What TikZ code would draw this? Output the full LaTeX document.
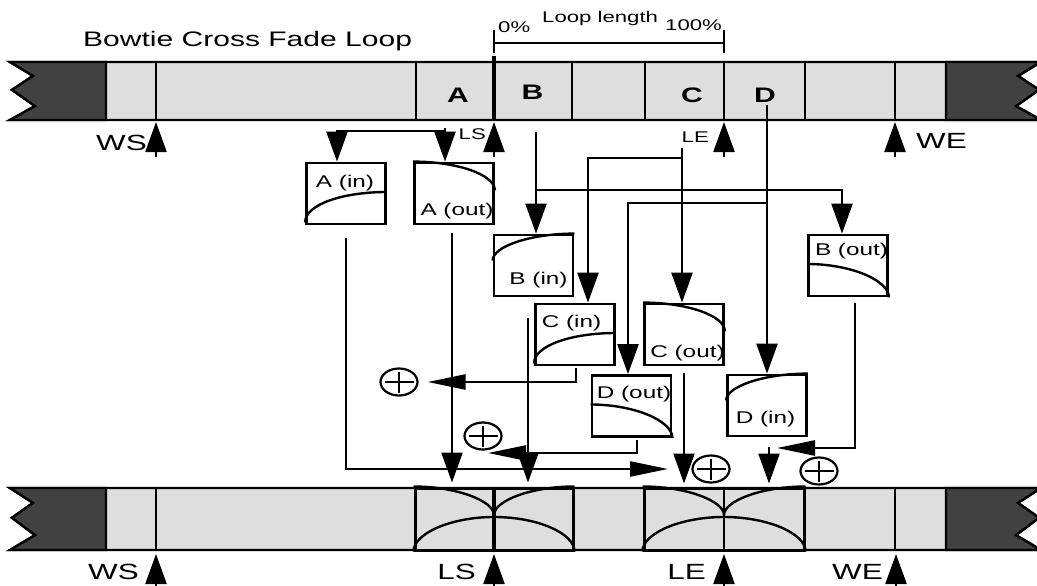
\documentclass[tikz,border=0pt]{standalone}
\usepackage{fontspec}
\setmainfont{Liberation Sans}[FakeStretch=1.43]
\usetikzlibrary{arrows.meta,calc,shapes.geometric}
\definecolor{lgray}{HTML}{DEDEDE}
\definecolor{dgray}{HTML}{414141}
\newcommand{\tapebar}[2]{%
  \pgfmathsetmacro{\ya}{#1+0.24*(#2-#1)}%
  \pgfmathsetmacro{\yb}{#1+0.48*(#2-#1)}%
  \pgfmathsetmacro{\yc}{#1+0.76*(#2-#1)}%
  \path[bar] (10,#1) -- (1041,#1) -- (1018,\ya) -- (1039,\yb) -- (1016,\yc) -- (1041,#2) -- (10,#2) -- (35,\yc) -- (12,\yb) -- (33,\ya) -- cycle;
  \path[darkend] (106,#1) -- (10,#1) -- (33,\ya) -- (12,\yb) -- (35,\yc) -- (10,#2) -- (106,#2) -- cycle;
  \path[darkend] (946,#1) -- (1041,#1) -- (1018,\ya) -- (1039,\yb) -- (1016,\yc) -- (1041,#2) -- (946,#2) -- cycle;
  \draw[sep] (156,#1) -- (156,#2) (895,#1) -- (895,#2);
}
\begin{document}
\begin{tikzpicture}[x=1pt,y=-1pt,line join=miter,
  bar/.style={draw=black,line width=2.4pt,fill=lgray},
  darkend/.style={draw=black,line width=2.4pt,fill=dgray},
  sep/.style={line width=2.2pt},
  lsline/.style={line width=4.5pt},
  fbox/.style={draw=black,line width=2.8pt,fill=white,minimum width=79pt,minimum height=61pt,inner sep=0pt},
  bow/.style={draw=black,line width=3pt,fill=lgray,minimum height=62pt,inner sep=0pt},
  crv/.style={line width=2.4pt},
  conn/.style={line width=2.4pt},
  varr/.style={conn,-{Triangle[length=30pt,width=21pt]}},
  harr/.style={conn,-{Triangle[length=38pt,width=15pt]}},
  uarr/.style={conn,{Triangle[length=30pt,width=21pt]}-},
  big/.style={font=\fontsize{22}{26}\selectfont,inner sep=0pt},
  bigb/.style={font=\fontsize{21}{25}\selectfont\bfseries,inner sep=0pt},
  small/.style={font=\fontsize{15.5}{18}\selectfont,inner sep=0pt},
  lab/.style={font=\fontsize{17}{19}\selectfont,inner sep=0pt,anchor=base},
  oplus/.style={draw=black,ellipse,line width=2.2pt,minimum width=37pt,minimum height=27pt,inner sep=0pt},
  plusbar/.style={line width=2.2pt}
]
\useasboundingbox (0,0) rectangle (1037,586);

% ---------- top bar ----------
\tapebar{62}{120}
\foreach \x in {416,572,645,724,805} \draw[sep] (\x,62) -- (\x,120);
\draw[lsline] (494,56) -- (494,120);
\node[bigb] (lA) at (458,95) {A};
\node[bigb] (lB) at (532.5,92.5) {B};
\node[bigb] (lC) at (692,95) {C};
\node[bigb] (lD) at (765,95) {D};

% title and loop length bracket
\node[font=\fontsize{21}{25}\selectfont,inner sep=0pt,anchor=base west] (title) at (83,47) {Bowtie Cross Fade Loop};
\coordinate (brL) at (494,30);
\coordinate (brR) at (724,30);
\draw[line width=2pt] (brL) -- ++(0,23) (494,43) -- (724,43) (brR) -- ++(0,23);
\node[small,anchor=base west] (p0) at (498,33) {0\%};
\node[small,anchor=base west] (ll) at (542,23) {Loop length};
\node[small,anchor=base west] (p100) at (665,31) {100\%};

% markers under top bar
\coordinate (wsT) at (156,122);
\coordinate (lsT) at (494,122);
\coordinate (leT) at (724,122);
\coordinate (weT) at (895,122);
\foreach \c in {wsT,lsT,leT,weT} \draw[uarr] (\c) -- ++(0,35);
\node[big,anchor=east] (wsTl) at (147,143) {WS};
\node[small,anchor=east] (lsTl) at (486,134) {LS};
\node[small,anchor=east] (leTl) at (709,137) {LE};
\node[big,anchor=west] (weTl) at (916,141) {WE};

% ---------- bottom bar ----------
\tapebar{488}{550}
\node[bow,minimum width=158pt] (bow1) at (494,519) {};
\node[bow,minimum width=160pt] (bow2) at (724,519) {};
\draw[lsline] (494,488) -- (494,550);
\draw[sep] (724,488) -- (724,550);
\draw[crv] (bow1.north west) .. controls +(43,0) and +(0,-14) .. (494,515) .. controls +(0,-14) and +(-44,0) .. (bow1.north east);
\draw[crv] (bow1.south west) .. controls +(0,-18) and +(-43,0) .. (494,517) .. controls +(44,0) and +(0,-18) .. (bow1.south east);
\draw[crv] (bow2.north west) .. controls +(44,0) and +(0,-14) .. (724,515) .. controls +(0,-14) and +(-44,0) .. (bow2.north east);
\draw[crv] (bow2.south west) .. controls +(0,-18) and +(-44,0) .. (724,517) .. controls +(44,0) and +(0,-18) .. (bow2.south east);

\coordinate (wsB) at (156,554);
\coordinate (lsB) at (494,554);
\coordinate (leB) at (724,554);
\coordinate (weB) at (896,554);
\foreach \c in {wsB,lsB,leB,weB} \draw[uarr] (\c) -- ++(0,34);
\node[big,anchor=east] (wsBl) at (139,572) {WS};
\node[big,anchor=east] (lsBl) at (476,572) {LS};
\node[big,anchor=east] (leBl) at (706,572) {LE};
\node[big,anchor=east] (weBl) at (883,572) {WE};

% ---------- fade boxes ----------
\node[fbox] (Ain) at (346,193.5) {};
\node[fbox] (Aout) at (454,193.5) {};
\node[fbox] (Bin) at (533.5,265.5) {};
\node[fbox] (Cin) at (575,334.5) {};
\node[fbox] (Cout) at (684,334.5) {};
\node[fbox] (Bout) at (848,265.5) {};
\node[fbox] (Dout) at (631.5,406) {};
\node[fbox] (Din) at (767,405.5) {};

\foreach \b in {Ain,Cin}
  \draw[crv] ($(\b.south west)+(0,-3)$) .. controls +(0,-18) and +(-44,0) .. ($(\b.east)+(0,-1.5)$);
\foreach \b in {Aout,Cout}
  \draw[crv] (\b.north west) .. controls +(44,0) and +(0,-16) .. ($(\b.east)+(0,-3)$);
\foreach \b in {Bin,Din}
  \draw[crv] ($(\b.west)+(0,-5)$) .. controls +(0,-14) and +(-44,0) .. (\b.north east);
\foreach \b in {Bout,Dout}
  \draw[crv] ($(\b.west)+(0,-1.5)$) .. controls +(44,0) and +(0,-17) .. (\b.south east);

\node[lab] (AinT) at (345,187) {A (in)};
\node[lab] (AoutT) at (457,215) {A (out)};
\node[lab] (BinT) at (538.5,284) {B (in)};
\node[lab] (CinT) at (571.5,327) {C (in)};
\node[lab] (CoutT) at (687.5,357) {C (out)};
\node[lab] (BoutT) at (851.5,255) {B (out)};
\node[lab] (DoutT) at (634,398) {D (out)};
\node[lab] (DinT) at (765.5,423) {D (in)};

% ---------- summing points ----------
\node[oplus] (p1) at (399,382) {};
\node[oplus] (p2) at (483,436) {};
\node[oplus] (p3) at (711,469) {};
\node[oplus] (p4) at (819,471) {};
\foreach \n in {p1,p2,p3,p4}
  \draw[plusbar] ($(\n)+(-14.5,0)$) -- ($(\n)+(14.5,0)$) ($(\n)+(0,-10.5)$) -- ($(\n)+(0,10.5)$);

% ---------- input connectors ----------
\coordinate (aS) at (445,128);
\coordinate (aJ) at (445,131);
\coordinate (aL) at (337,131);
\draw[varr] (aS) -- (aS |- Aout.north);
\draw[varr] (aJ) -- (aL) -- (aL |- Ain.north);

\coordinate (bS) at (536,132);
\coordinate (bJ) at (536,190);
\coordinate (bR) at (842,190);
\draw[varr] (bS) -- (bS |- Bin.north);
\draw[varr] (bJ) -- (bR) -- (bR |- Bout.north);

\coordinate (cS) at (682,148);
\coordinate (cJ) at (682,158);
\coordinate (cL) at (588,158);
\draw[varr] (cS) -- (cS |- Cout.north);
\draw[varr] (cJ) -- (cL) -- (cL |- Cin.north);

\coordinate (dS) at (767,105);
\coordinate (dJ) at (767,203);
\coordinate (dL) at (628,203);
\draw[varr] (dS) -- (dS |- Din.north);
\draw[varr] (dJ) -- (dL) -- (dL |- Dout.north);

% ---------- output connectors ----------
\coordinate (aiO) at (346,238);
\coordinate (aiE) at (668,469);
\draw[harr] (aiO) |- (aiE);
\coordinate (aoO) at (452,233);
\draw[varr,shorten >=4pt] (aoO) -- (aoO |- bow1.north);
\coordinate (biO) at (528,318);
\draw[varr,shorten >=4pt] (biO) -- (biO |- bow1.north);
\coordinate (ciO) at (576,368);
\draw[harr,shorten >=9pt] (ciO) |- (p1.east);
\coordinate (doO) at (637,440);
\coordinate (doE) at (488,453);
\draw[harr] (doO) |- (doE);
\coordinate (coO) at (684,373);
\draw[varr,shorten >=3pt] (coO) -- (coO |- bow2.north);
\coordinate (dnO) at (769,447);
\draw[varr,shorten >=3pt] (dnO) -- (dnO |- bow2.north);
\coordinate (boO) at (855,303);
\coordinate (boE) at (777,448);
\draw[harr] (boO) |- (boE);
\end{tikzpicture}
\end{document}
